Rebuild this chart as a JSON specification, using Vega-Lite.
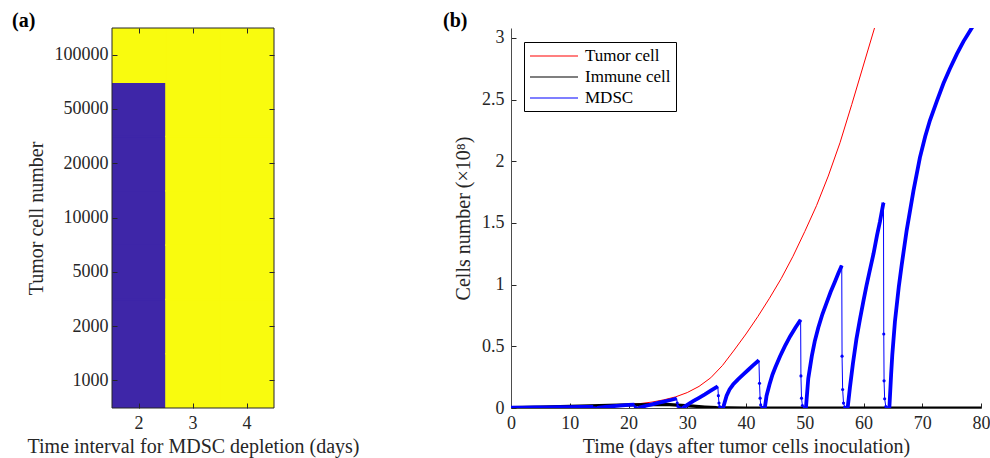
{
  "$schema": "https://vega.github.io/schema/vega-lite/v6.json",
  "padding": {"left": 12, "top": 10, "right": 5, "bottom": 5},
  "background": "white",
  "bounds": "flush",
  "spacing": 237,
  "resolve": {"scale": {"color": "independent", "stroke": "independent", "x": "independent", "y": "independent"}},
  "datasets": {
    "heat": [
      {"interval": 2, "tumor": 1000, "z": 0}, {"interval": 2, "tumor": 2000, "z": 0}, {"interval": 2, "tumor": 5000, "z": 0},
      {"interval": 2, "tumor": 10000, "z": 0}, {"interval": 2, "tumor": 20000, "z": 0}, {"interval": 2, "tumor": 50000, "z": 0},
      {"interval": 2, "tumor": 100000, "z": 1},
      {"interval": 3, "tumor": 1000, "z": 1}, {"interval": 3, "tumor": 2000, "z": 1}, {"interval": 3, "tumor": 5000, "z": 1},
      {"interval": 3, "tumor": 10000, "z": 1}, {"interval": 3, "tumor": 20000, "z": 1}, {"interval": 3, "tumor": 50000, "z": 1},
      {"interval": 3, "tumor": 100000, "z": 1},
      {"interval": 4, "tumor": 1000, "z": 1}, {"interval": 4, "tumor": 2000, "z": 1}, {"interval": 4, "tumor": 5000, "z": 1},
      {"interval": 4, "tumor": 10000, "z": 1}, {"interval": 4, "tumor": 20000, "z": 1}, {"interval": 4, "tumor": 50000, "z": 1},
      {"interval": 4, "tumor": 100000, "z": 1}
    ],
    "frame": [{"panel": "a"}],
    "lines": [
      {"series": "Tumor cell", "t": 0, "value": 0.0005}, {"series": "Tumor cell", "t": 5, "value": 0.002},
      {"series": "Tumor cell", "t": 10, "value": 0.005}, {"series": "Tumor cell", "t": 15, "value": 0.012},
      {"series": "Tumor cell", "t": 18, "value": 0.02}, {"series": "Tumor cell", "t": 20, "value": 0.027},
      {"series": "Tumor cell", "t": 22, "value": 0.036}, {"series": "Tumor cell", "t": 24, "value": 0.048},
      {"series": "Tumor cell", "t": 26, "value": 0.066}, {"series": "Tumor cell", "t": 28, "value": 0.09},
      {"series": "Tumor cell", "t": 30, "value": 0.125}, {"series": "Tumor cell", "t": 32, "value": 0.175},
      {"series": "Tumor cell", "t": 34, "value": 0.245}, {"series": "Tumor cell", "t": 36, "value": 0.345},
      {"series": "Tumor cell", "t": 38, "value": 0.47}, {"series": "Tumor cell", "t": 40, "value": 0.6},
      {"series": "Tumor cell", "t": 42, "value": 0.74}, {"series": "Tumor cell", "t": 44, "value": 0.89},
      {"series": "Tumor cell", "t": 46, "value": 1.05}, {"series": "Tumor cell", "t": 48, "value": 1.23},
      {"series": "Tumor cell", "t": 50, "value": 1.43}, {"series": "Tumor cell", "t": 52, "value": 1.64},
      {"series": "Tumor cell", "t": 54, "value": 1.88}, {"series": "Tumor cell", "t": 56, "value": 2.15},
      {"series": "Tumor cell", "t": 58, "value": 2.46}, {"series": "Tumor cell", "t": 60, "value": 2.78},
      {"series": "Tumor cell", "t": 62, "value": 3.1}, {"series": "Tumor cell", "t": 64, "value": 3.42},

      {"series": "Immune cell", "t": 0, "value": 0.004}, {"series": "Immune cell", "t": 5, "value": 0.008},
      {"series": "Immune cell", "t": 10, "value": 0.013}, {"series": "Immune cell", "t": 15, "value": 0.019},
      {"series": "Immune cell", "t": 20, "value": 0.025}, {"series": "Immune cell", "t": 24, "value": 0.028},
      {"series": "Immune cell", "t": 27, "value": 0.027}, {"series": "Immune cell", "t": 29, "value": 0.022},
      {"series": "Immune cell", "t": 31, "value": 0.015}, {"series": "Immune cell", "t": 33, "value": 0.008},
      {"series": "Immune cell", "t": 35, "value": 0.003}, {"series": "Immune cell", "t": 37, "value": 0.001},
      {"series": "Immune cell", "t": 40, "value": 0}, {"series": "Immune cell", "t": 50, "value": 0},
      {"series": "Immune cell", "t": 60, "value": 0}, {"series": "Immune cell", "t": 70, "value": 0},
      {"series": "Immune cell", "t": 80, "value": 0},

      {"series": "MDSC", "cycle": 0, "phase": "growth", "t": 0, "value": 0.002},
      {"series": "MDSC", "cycle": 0, "phase": "growth", "t": 2, "value": 0.003},
      {"series": "MDSC", "cycle": 0, "phase": "growth", "t": 4, "value": 0.004},
      {"series": "MDSC", "cycle": 0, "phase": "growth", "t": 6, "value": 0.005},
      {"series": "MDSC", "cycle": 0, "phase": "growth", "t": 8, "value": 0.006},
      {"series": "MDSC", "cycle": 0, "phase": "growth", "t": 10, "value": 0.007},
      {"series": "MDSC", "cycle": 0, "phase": "growth", "t": 12, "value": 0.008},
      {"series": "MDSC", "cycle": 0, "phase": "growth", "t": 14, "value": 0.009},
      {"series": "MDSC", "cycle": 0, "phase": "depletion", "t": 14.2, "value": 0.002},
      {"series": "MDSC", "cycle": 0, "phase": "depletion", "t": 14.4, "value": 0},
      {"series": "MDSC", "cycle": 1, "phase": "growth", "t": 14.6, "value": 0},
      {"series": "MDSC", "cycle": 1, "phase": "growth", "t": 15, "value": 0.004},
      {"series": "MDSC", "cycle": 1, "phase": "growth", "t": 16, "value": 0.009},
      {"series": "MDSC", "cycle": 1, "phase": "growth", "t": 17, "value": 0.013},
      {"series": "MDSC", "cycle": 1, "phase": "growth", "t": 18, "value": 0.017},
      {"series": "MDSC", "cycle": 1, "phase": "growth", "t": 19, "value": 0.021},
      {"series": "MDSC", "cycle": 1, "phase": "growth", "t": 20, "value": 0.025},
      {"series": "MDSC", "cycle": 1, "phase": "growth", "t": 21, "value": 0.028},
      {"series": "MDSC", "cycle": 1, "phase": "depletion", "t": 21.15, "value": 0.01},
      {"series": "MDSC", "cycle": 1, "phase": "depletion", "t": 21.3, "value": 0.002},
      {"series": "MDSC", "cycle": 1, "phase": "depletion", "t": 21.5, "value": 0},
      {"series": "MDSC", "cycle": 2, "phase": "growth", "t": 21.7, "value": 0},
      {"series": "MDSC", "cycle": 2, "phase": "growth", "t": 22, "value": 0.006},
      {"series": "MDSC", "cycle": 2, "phase": "growth", "t": 23, "value": 0.018},
      {"series": "MDSC", "cycle": 2, "phase": "growth", "t": 24, "value": 0.03},
      {"series": "MDSC", "cycle": 2, "phase": "growth", "t": 25, "value": 0.041},
      {"series": "MDSC", "cycle": 2, "phase": "growth", "t": 26, "value": 0.052},
      {"series": "MDSC", "cycle": 2, "phase": "growth", "t": 27, "value": 0.063},
      {"series": "MDSC", "cycle": 2, "phase": "growth", "t": 28.2, "value": 0.077},
      {"series": "MDSC", "cycle": 2, "phase": "depletion", "t": 28.3, "value": 0.04},
      {"series": "MDSC", "cycle": 2, "phase": "depletion", "t": 28.4, "value": 0.015},
      {"series": "MDSC", "cycle": 2, "phase": "depletion", "t": 28.6, "value": 0.004},
      {"series": "MDSC", "cycle": 2, "phase": "depletion", "t": 28.9, "value": 0},
      {"series": "MDSC", "cycle": 3, "phase": "growth", "t": 29.2, "value": 0},
      {"series": "MDSC", "cycle": 3, "phase": "growth", "t": 30, "value": 0.025},
      {"series": "MDSC", "cycle": 3, "phase": "growth", "t": 31, "value": 0.055},
      {"series": "MDSC", "cycle": 3, "phase": "growth", "t": 32, "value": 0.082},
      {"series": "MDSC", "cycle": 3, "phase": "growth", "t": 33, "value": 0.11},
      {"series": "MDSC", "cycle": 3, "phase": "growth", "t": 34, "value": 0.14},
      {"series": "MDSC", "cycle": 3, "phase": "growth", "t": 35.2, "value": 0.176},
      {"series": "MDSC", "cycle": 3, "phase": "depletion", "t": 35.3, "value": 0.1},
      {"series": "MDSC", "cycle": 3, "phase": "depletion", "t": 35.4, "value": 0.04},
      {"series": "MDSC", "cycle": 3, "phase": "depletion", "t": 35.5, "value": 0.012},
      {"series": "MDSC", "cycle": 3, "phase": "depletion", "t": 35.8, "value": 0},
      {"series": "MDSC", "cycle": 4, "phase": "growth", "t": 36.1, "value": 0},
      {"series": "MDSC", "cycle": 4, "phase": "growth", "t": 36.4, "value": 0.05},
      {"series": "MDSC", "cycle": 4, "phase": "growth", "t": 36.7, "value": 0.1},
      {"series": "MDSC", "cycle": 4, "phase": "growth", "t": 37.2, "value": 0.15},
      {"series": "MDSC", "cycle": 4, "phase": "growth", "t": 37.8, "value": 0.19},
      {"series": "MDSC", "cycle": 4, "phase": "growth", "t": 38.6, "value": 0.23},
      {"series": "MDSC", "cycle": 4, "phase": "growth", "t": 39.5, "value": 0.27},
      {"series": "MDSC", "cycle": 4, "phase": "growth", "t": 40.4, "value": 0.31},
      {"series": "MDSC", "cycle": 4, "phase": "growth", "t": 41.2, "value": 0.345},
      {"series": "MDSC", "cycle": 4, "phase": "growth", "t": 42.2, "value": 0.387},
      {"series": "MDSC", "cycle": 4, "phase": "depletion", "t": 42.3, "value": 0.2},
      {"series": "MDSC", "cycle": 4, "phase": "depletion", "t": 42.4, "value": 0.08},
      {"series": "MDSC", "cycle": 4, "phase": "depletion", "t": 42.5, "value": 0.025},
      {"series": "MDSC", "cycle": 4, "phase": "depletion", "t": 42.7, "value": 0.005},
      {"series": "MDSC", "cycle": 4, "phase": "depletion", "t": 43, "value": 0},
      {"series": "MDSC", "cycle": 5, "phase": "growth", "t": 43.2, "value": 0},
      {"series": "MDSC", "cycle": 5, "phase": "growth", "t": 43.5, "value": 0.1},
      {"series": "MDSC", "cycle": 5, "phase": "growth", "t": 44, "value": 0.19},
      {"series": "MDSC", "cycle": 5, "phase": "growth", "t": 44.5, "value": 0.27},
      {"series": "MDSC", "cycle": 5, "phase": "growth", "t": 45, "value": 0.33},
      {"series": "MDSC", "cycle": 5, "phase": "growth", "t": 45.8, "value": 0.42},
      {"series": "MDSC", "cycle": 5, "phase": "growth", "t": 46.6, "value": 0.5},
      {"series": "MDSC", "cycle": 5, "phase": "growth", "t": 47.5, "value": 0.58},
      {"series": "MDSC", "cycle": 5, "phase": "growth", "t": 48.4, "value": 0.65},
      {"series": "MDSC", "cycle": 5, "phase": "growth", "t": 49.3, "value": 0.715},
      {"series": "MDSC", "cycle": 5, "phase": "depletion", "t": 49.35, "value": 0.26},
      {"series": "MDSC", "cycle": 5, "phase": "depletion", "t": 49.45, "value": 0.08},
      {"series": "MDSC", "cycle": 5, "phase": "depletion", "t": 49.6, "value": 0.02},
      {"series": "MDSC", "cycle": 5, "phase": "depletion", "t": 49.9, "value": 0},
      {"series": "MDSC", "cycle": 6, "phase": "growth", "t": 50.2, "value": 0},
      {"series": "MDSC", "cycle": 6, "phase": "growth", "t": 50.6, "value": 0.24},
      {"series": "MDSC", "cycle": 6, "phase": "growth", "t": 51.2, "value": 0.42},
      {"series": "MDSC", "cycle": 6, "phase": "growth", "t": 51.7, "value": 0.54},
      {"series": "MDSC", "cycle": 6, "phase": "growth", "t": 52.3, "value": 0.65},
      {"series": "MDSC", "cycle": 6, "phase": "growth", "t": 53, "value": 0.76},
      {"series": "MDSC", "cycle": 6, "phase": "growth", "t": 53.7, "value": 0.85},
      {"series": "MDSC", "cycle": 6, "phase": "growth", "t": 54.4, "value": 0.94},
      {"series": "MDSC", "cycle": 6, "phase": "growth", "t": 55.1, "value": 1.02},
      {"series": "MDSC", "cycle": 6, "phase": "growth", "t": 55.7, "value": 1.09},
      {"series": "MDSC", "cycle": 6, "phase": "growth", "t": 56.3, "value": 1.155},
      {"series": "MDSC", "cycle": 6, "phase": "depletion", "t": 56.35, "value": 0.42},
      {"series": "MDSC", "cycle": 6, "phase": "depletion", "t": 56.45, "value": 0.15},
      {"series": "MDSC", "cycle": 6, "phase": "depletion", "t": 56.6, "value": 0.04},
      {"series": "MDSC", "cycle": 6, "phase": "depletion", "t": 56.8, "value": 0.008},
      {"series": "MDSC", "cycle": 6, "phase": "depletion", "t": 57.1, "value": 0},
      {"series": "MDSC", "cycle": 7, "phase": "growth", "t": 57.3, "value": 0},
      {"series": "MDSC", "cycle": 7, "phase": "growth", "t": 57.7, "value": 0.17},
      {"series": "MDSC", "cycle": 7, "phase": "growth", "t": 58.2, "value": 0.36},
      {"series": "MDSC", "cycle": 7, "phase": "growth", "t": 58.8, "value": 0.56},
      {"series": "MDSC", "cycle": 7, "phase": "growth", "t": 59.4, "value": 0.72},
      {"series": "MDSC", "cycle": 7, "phase": "growth", "t": 60, "value": 0.87},
      {"series": "MDSC", "cycle": 7, "phase": "growth", "t": 60.5, "value": 0.99},
      {"series": "MDSC", "cycle": 7, "phase": "growth", "t": 61, "value": 1.1},
      {"series": "MDSC", "cycle": 7, "phase": "growth", "t": 61.7, "value": 1.25},
      {"series": "MDSC", "cycle": 7, "phase": "growth", "t": 62.3, "value": 1.4},
      {"series": "MDSC", "cycle": 7, "phase": "growth", "t": 62.8, "value": 1.51},
      {"series": "MDSC", "cycle": 7, "phase": "growth", "t": 63.4, "value": 1.665},
      {"series": "MDSC", "cycle": 7, "phase": "depletion", "t": 63.45, "value": 0.6},
      {"series": "MDSC", "cycle": 7, "phase": "depletion", "t": 63.5, "value": 0.22},
      {"series": "MDSC", "cycle": 7, "phase": "depletion", "t": 63.6, "value": 0.075},
      {"series": "MDSC", "cycle": 7, "phase": "depletion", "t": 63.8, "value": 0.012},
      {"series": "MDSC", "cycle": 7, "phase": "depletion", "t": 64.1, "value": 0},
      {"series": "MDSC", "cycle": 8, "phase": "growth", "t": 64.4, "value": 0},
      {"series": "MDSC", "cycle": 8, "phase": "growth", "t": 64.7, "value": 0.27},
      {"series": "MDSC", "cycle": 8, "phase": "growth", "t": 64.9, "value": 0.43},
      {"series": "MDSC", "cycle": 8, "phase": "growth", "t": 65.35, "value": 0.7},
      {"series": "MDSC", "cycle": 8, "phase": "growth", "t": 66, "value": 0.98},
      {"series": "MDSC", "cycle": 8, "phase": "growth", "t": 66.5, "value": 1.16},
      {"series": "MDSC", "cycle": 8, "phase": "growth", "t": 67.35, "value": 1.44},
      {"series": "MDSC", "cycle": 8, "phase": "growth", "t": 68.5, "value": 1.76},
      {"series": "MDSC", "cycle": 8, "phase": "growth", "t": 69.6, "value": 2.03},
      {"series": "MDSC", "cycle": 8, "phase": "growth", "t": 70.5, "value": 2.2},
      {"series": "MDSC", "cycle": 8, "phase": "growth", "t": 71.3, "value": 2.33},
      {"series": "MDSC", "cycle": 8, "phase": "growth", "t": 72.5, "value": 2.49},
      {"series": "MDSC", "cycle": 8, "phase": "growth", "t": 73.6, "value": 2.63},
      {"series": "MDSC", "cycle": 8, "phase": "growth", "t": 74.7, "value": 2.75},
      {"series": "MDSC", "cycle": 8, "phase": "growth", "t": 75.9, "value": 2.87},
      {"series": "MDSC", "cycle": 8, "phase": "growth", "t": 77, "value": 2.97},
      {"series": "MDSC", "cycle": 8, "phase": "growth", "t": 78.3, "value": 3.07},
      {"series": "MDSC", "cycle": 8, "phase": "growth", "t": 80, "value": 3.2}
    ]
  },
  "hconcat": [
    {
      "width": 162,
      "height": 380,
      "title": {"text": "(a)", "anchor": "start", "frame": "group", "dx": -100, "offset": -3, "fontSize": 20, "fontWeight": "bold", "font": "Liberation Serif", "color": "black"},
      "view": {"stroke": null},
      "data": {"name": "heat"},
      "layer": [
        {
          "mark": {"type": "rect", "strokeWidth": 1.6, "clip": true},
          "encoding": {
            "x": {"field": "interval", "type": "ordinal", "scale": {"paddingInner": 0, "paddingOuter": 0},
                  "axis": {"orient": "bottom", "title": "Time interval for MDSC depletion (days)", "labelAngle": 0, "domain": false, "labelPadding": 11, "titlePadding": 4}},
            "y": {"field": "tumor", "type": "ordinal", "sort": "descending", "scale": {"paddingInner": 0, "paddingOuter": 0},
                  "axis": {"orient": "left", "title": "Tumor cell number", "domain": false, "labelPadding": 9, "titlePadding": 8}},
            "color": {"field": "z", "type": "ordinal", "scale": {"domain": [0, 1], "range": ["#3e26a8", "#f9fb0e"]}, "legend": null},
            "stroke": {"field": "z", "type": "ordinal", "scale": {"domain": [0, 1], "range": ["#3e26a8", "#f9fb0e"]}, "legend": null}
          }
        },
        {
          "mark": {"type": "rect", "opacity": 0},
          "encoding": {
            "x": {"field": "interval", "type": "ordinal", "axis": {"orient": "top", "labels": false, "title": null, "domain": false}},
            "y": {"field": "tumor", "type": "ordinal", "sort": "descending", "axis": {"orient": "right", "labels": false, "title": null, "domain": false}}
          }
        },
        {
          "data": {"name": "frame"},
          "mark": {"type": "rect", "filled": false, "fill": null, "stroke": "#262626", "strokeWidth": 1},
          "encoding": {}
        }
      ],
      "resolve": {"axis": {"x": "independent", "y": "independent"}}
    },
    {
      "width": 470,
      "height": 380,
      "title": {"text": "(b)", "anchor": "start", "frame": "group", "dx": -68, "offset": -3, "fontSize": 20, "fontWeight": "bold", "font": "Liberation Serif", "color": "black"},
      "view": {"stroke": null},
      "data": {"name": "lines"},
      "encoding": {
        "x": {"field": "t", "type": "quantitative", "scale": {"domain": [0, 80], "nice": false},
              "axis": {"values": [0, 10, 20, 30, 40, 50, 60, 70, 80], "title": "Time (days after tumor cells inoculation)", "labelPadding": 11, "titlePadding": 4, "domainColor": "#4d4d4d"}},
        "y": {"field": "value", "type": "quantitative", "scale": {"domain": [0, 3.08], "nice": false},
              "axis": {"values": [0, 0.5, 1, 1.5, 2, 2.5, 3], "format": "~g", "title": "Cells number (×10⁸)", "labelPadding": 12, "titlePadding": 8, "domainColor": "#4d4d4d"}},
        "color": {"field": "series", "type": "nominal",
                  "scale": {"domain": ["Tumor cell", "Immune cell", "MDSC"], "range": ["#ff0000", "#000000", "#0000ff"]},
                  "legend": {"orient": "none", "legendX": 13, "legendY": 14, "title": null, "symbolType": "M-1,0H5", "symbolSize": 256,
                             "symbolStrokeWidth": 1.2, "labelOffset": 38, "labelFontSize": 17, "labelFont": "Liberation Serif", "labelColor": "black",
                             "padding": 5, "rowPadding": 4, "strokeColor": "black", "fillColor": "white"}}
      },
      "layer": [
        {"transform": [{"filter": "datum.series === 'Tumor cell'"}], "mark": {"type": "line", "strokeWidth": 1, "clip": true}},
        {"transform": [{"filter": "datum.series === 'Immune cell'"}], "mark": {"type": "line", "strokeWidth": 3.2, "clip": true}},
        {"transform": [{"filter": "datum.series === 'MDSC'"}], "mark": {"type": "line", "strokeWidth": 1, "clip": true}},
        {"transform": [{"filter": "datum.series === 'MDSC' && datum.phase === 'growth'"}], "mark": {"type": "line", "strokeWidth": 3.8, "clip": true},
         "encoding": {"detail": {"field": "cycle", "type": "nominal"}}},
        {"transform": [{"filter": "datum.series === 'MDSC' && datum.phase === 'depletion'"}], "mark": {"type": "point", "filled": true, "size": 10, "opacity": 1, "clip": true}}
      ]
    }
  ],
  "config": {
    "font": "Liberation Serif",
    "axis": {"labelFont": "Liberation Serif", "titleFont": "Liberation Serif", "labelFontSize": 18, "titleFontSize": 20, "titleFontWeight": "normal",
             "labelColor": "#262626", "titleColor": "#262626", "domainColor": "#262626", "tickColor": "#262626", "grid": false,
             "tickSize": -5, "labelFlush": false, "labelOverlap": false}
  }
}
